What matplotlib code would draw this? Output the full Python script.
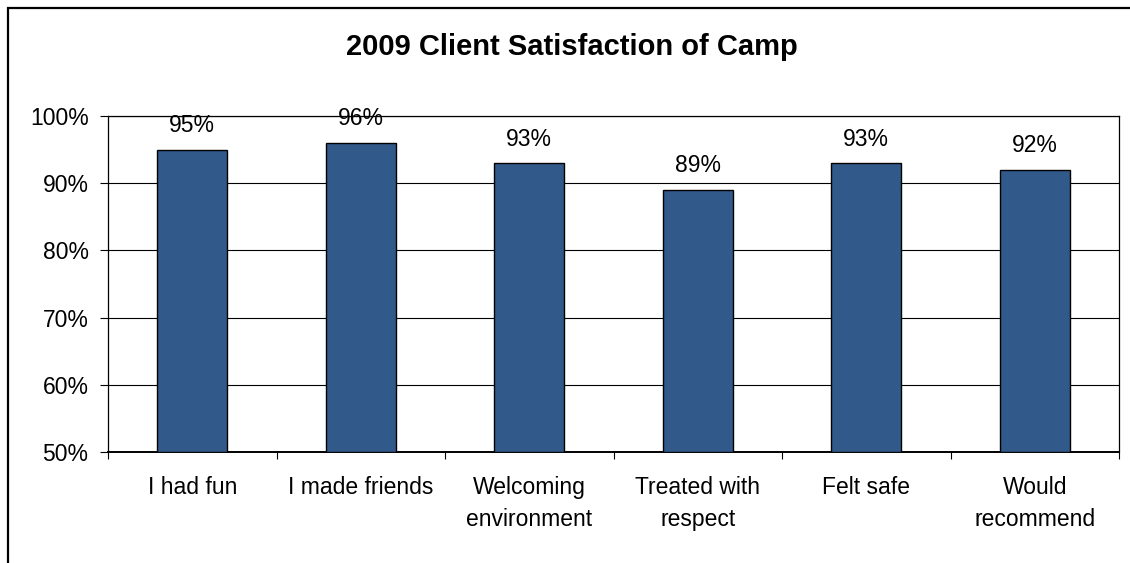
import matplotlib
matplotlib.use("Agg")
import matplotlib.pyplot as plt
from matplotlib.patches import Rectangle
from matplotlib.ticker import FixedLocator, FuncFormatter

categories = ["I had fun", "I made friends", "Welcoming\nenvironment",
              "Treated with\nrespect", "Felt safe", "Would\nrecommend"]
values = [95, 96, 93, 89, 93, 92]
yticks = [50, 60, 70, 80, 90, 100]
title = "2009 Client Satisfaction of Camp"

plt.rcParams['font.family'] = ['Liberation Sans', 'DejaVu Sans']

W, H = 1130, 563
fig = plt.figure(figsize=(W / 100, H / 100), dpi=100)
fig.patch.set_facecolor("white")

# outer chart border (cropped on right/bottom)
fig.add_artist(Rectangle((8 / W, -0.1), 1.2, 1 - 8 / H + 0.1, transform=fig.transFigure,
                         fill=False, edgecolor="black", linewidth=1.6))

left, right, top, bottom = 108, 1119, 116, 452
ax = fig.add_axes([left / W, 1 - bottom / H, (right - left) / W, (bottom - top) / H])

x = list(range(len(categories)))
bars = ax.bar(x, [v - 50 for v in values], bottom=50, width=0.415,
              color="#31598A", edgecolor="black", linewidth=1.0, zorder=3)

FS = 16.5
for xi, v in zip(x, values):
    ax.annotate(f"{v}%", (xi, v), xytext=(0, 9), textcoords="offset points",
                ha="center", va="bottom", fontsize=FS, color="black", zorder=4)

ax.set_xlim(-0.5, len(categories) - 0.5)
ax.set_ylim(50, 100)
ax.yaxis.set_major_locator(FixedLocator(yticks))
ax.yaxis.set_major_formatter(FuncFormatter(lambda v, p: f"{int(v)}%"))
ax.grid(axis="y", color="black", linewidth=0.8, zorder=0)
ax.set_axisbelow(True)

# category labels centered, tick marks between categories
ax.set_xticks([i + 0.5 for i in range(-1, len(categories))])
ax.set_xticklabels([])
ax.set_xticks(x, minor=True)
ax.set_xticklabels(categories, minor=True, fontsize=FS, linespacing=1.5, va="top")
ax.tick_params(axis="x", which="minor", length=0, pad=17)
ax.tick_params(axis="x", which="major", length=5, width=0.8, direction="out", color="black")
ax.tick_params(axis="y", length=6, width=0.8, direction="out", pad=8, labelsize=FS)

for s in ax.spines.values():
    s.set_color("black")
    s.set_linewidth(0.9)
ax.spines["bottom"].set_linewidth(1.4)

fig.text(572 / W, 1 - 47 / H, title, ha="center", va="center",
         fontsize=21, fontweight="bold")

fig.savefig("out.png", dpi=100)
